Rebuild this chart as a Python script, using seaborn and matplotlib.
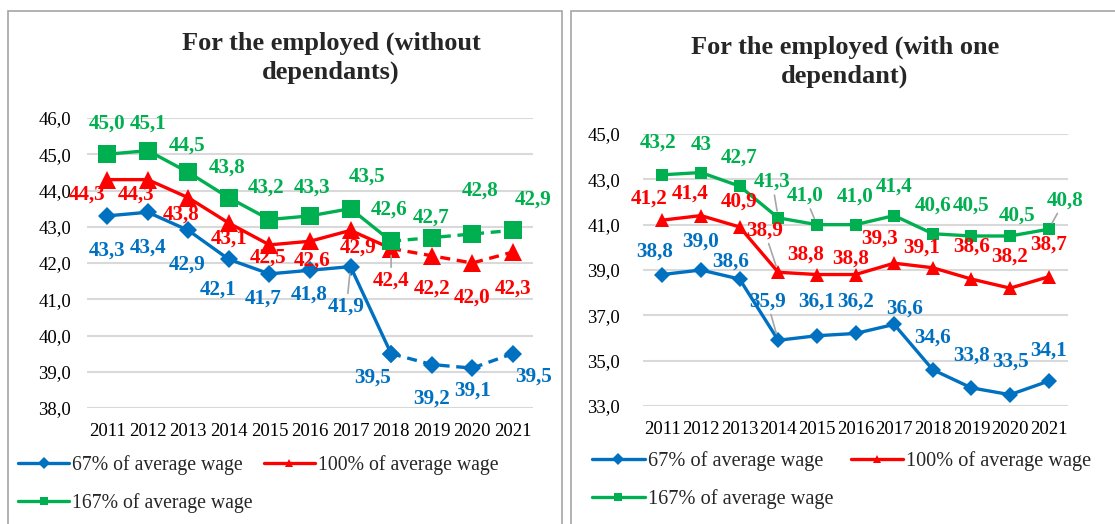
import matplotlib
matplotlib.use("Agg")
import matplotlib.pyplot as plt
from matplotlib.lines import Line2D
from matplotlib.patches import Rectangle
import seaborn as sns
import pandas as pd

# ---------------- data ----------------
years = [2011, 2012, 2013, 2014, 2015, 2016, 2017, 2018, 2019, 2020, 2021]
series_names = ["67% of average wage", "100% of average wage", "167% of average wage"]

left_67 = [43.3, 43.4, 42.9, 42.1, 41.7, 41.8, 41.9, 39.5, 39.2, 39.1, 39.5]
left_100 = [44.3, 44.3, 43.8, 43.1, 42.5, 42.6, 42.9, 42.4, 42.2, 42.0, 42.3]
left_167 = [45.0, 45.1, 44.5, 43.8, 43.2, 43.3, 43.5, 42.6, 42.7, 42.8, 42.9]

right_67 = [38.8, 39.0, 38.6, 35.9, 36.1, 36.2, 36.6, 34.6, 33.8, 33.5, 34.1]
right_100 = [41.2, 41.4, 40.9, 38.9, 38.8, 38.8, 39.3, 39.1, 38.6, 38.2, 38.7]
right_167 = [43.2, 43.3, 42.7, 41.3, 41.0, 41.0, 41.4, 40.6, 40.5, 40.5, 40.8]
right_167_label_override = {1: "43"}

left_title = "For the employed (without\ndependants)"
right_title = "For the employed (with one\ndependant)"
left_yticks = [38.0, 39.0, 40.0, 41.0, 42.0, 43.0, 44.0, 45.0, 46.0]
right_yticks = [33.0, 35.0, 37.0, 39.0, 41.0, 43.0, 45.0]
dash_from_year = 2018  # left panel: dashed after this year

# ---------------- style ----------------
colors = ["#0070C0", "#FF0000", "#00B050"]
markers = ["D", "^", "s"]
W, H = 1115, 524
sns.set_theme(style="white")
plt.rcParams["font.family"] = ["Liberation Serif", "DejaVu Serif"]

fig = plt.figure(figsize=(W / 100, H / 100), dpi=100)


def fx(px):
    return px / W


def fy(py):
    return 1 - py / H


# panel borders
for x0, x1 in [(8, 562), (571, 1130)]:
    fig.patches.append(Rectangle((fx(x0), fy(540)), fx(x1 - x0), fy(11) - fy(540),
                                 transform=fig.transFigure, fill=False,
                                 edgecolor="#A6A6A6", linewidth=1.2, zorder=0))


def fmt(v):
    return f"{v:.1f}".replace(".", ",")


def draw_panel(ax, data, msizes, offsets, leaders, ylim, yticks, ypad, dashed, overrides):
    for k, (vals, name) in enumerate(zip(data, series_names)):
        df = pd.DataFrame({"year": years, "value": vals})
        if dashed:
            solid = df[df.year <= dash_from_year]
            dash = df[df.year >= dash_from_year]
            sns.lineplot(data=solid, x="year", y="value", ax=ax, color=colors[k], lw=2.4,
                         marker=markers[k], markersize=msizes[k], markeredgewidth=0, zorder=3)
            sns.lineplot(data=dash, x="year", y="value", ax=ax, color=colors[k], lw=2.4,
                         marker=markers[k], markersize=msizes[k], markeredgewidth=0,
                         dashes=(3, 2), zorder=3)
        else:
            sns.lineplot(data=df, x="year", y="value", ax=ax, color=colors[k], lw=2.4,
                         marker=markers[k], markersize=msizes[k], markeredgewidth=0, zorder=3)
        for i, (yr, v) in enumerate(zip(years, vals)):
            txt = overrides.get((k, i), fmt(v))
            dx, dy = offsets[k][i]
            ap = None
            if (k, i) in leaders:
                ap = dict(arrowstyle="-", color="#A6A6A6", lw=1.2, shrinkA=0, shrinkB=5)
            ax.annotate(txt, (yr, v), xytext=(dx, -dy), textcoords="offset pixels",
                        ha="center", va="center", color=colors[k], fontsize=15.2,
                        fontweight="bold", arrowprops=ap, zorder=4, annotation_clip=False)
    ax.set_xlim(2010.5, 2021.5)
    ax.set_ylim(*ylim)
    ax.set_yticks(yticks)
    ax.set_yticklabels([fmt(t) for t in yticks])
    ax.set_xticks(years)
    ax.set_xticklabels([str(y) for y in years])
    ax.tick_params(axis="y", length=0, pad=ypad, labelsize=13.5, colors="black")
    ax.tick_params(axis="x", length=0, pad=10.5, labelsize=13.5, colors="black")
    ax.grid(axis="y", color="#D9D9D9", lw=1.5)
    ax.grid(axis="x", visible=False)
    for s in ax.spines.values():
        s.set_visible(False)
    ax.set_xlabel("")
    ax.set_ylabel("")
    ax.set_facecolor("none")
    if ax.get_legend():
        ax.get_legend().remove()


# left panel
axL = fig.add_axes([fx(87), fy(408), fx(446), fy(118) - fy(408)])
offL = [
    [(0, 35), (0, 35), (-1, 34), (-11, 30), (-6, 25), (-1, 24), (-4, 40), (-19, 24), (0, 34), (0, 22), (21, 23)],
    [(-20, 15), (-12, 15), (-7, 17), (0, 15), (-1, 13), (2, 19), (8, 17), (0, 32), (0, 33), (0, 35), (0, 36)],
    [(0, -31), (0, -27), (-1, -27), (-2, -30), (-3, -32), (2, -28), (17, -32), (-2, -32), (-1, -20), (8, -43), (20, -31)],
]
draw_panel(axL, [left_67, left_100, left_167], [9.5, 13.5, 12.5], offL,
           {(1, 7), (0, 6)}, (38, 46), left_yticks, 11.5, True, {})

# right panel
axR = fig.add_axes([fx(643), fy(406), fx(425), fy(134) - fy(406)])
offR = [
    [(-8, -23), (0, -28), (-9, -17), (-11, -39), (0, -34), (0, -32), (10, -16), (0, -32), (0, -32), (0, -33), (0, -30)],
    [(-13, -22), (-11, -22), (0, -25), (-14, -42), (-11, -20), (-5, -16), (-15, -25), (-11, -20), (0, -32), (0, -32), (0, -32)],
    [(-4, -32), (0, -28), (0, -29), (-6, -36), (-12, -29), (0, -28), (0, -29), (0, -28), (0, -30), (7, -20), (16, -29)],
]
overR = {(2, i): t for i, t in right_167_label_override.items()}
draw_panel(axR, [right_67, right_100, right_167], [8.5, 9.5, 9], offR,
           {(2, 3), (2, 4), (1, 3), (0, 3), (2, 10)}, (33, 45), right_yticks, 16.5, False, overR)

# titles
fig.text(fx(331), fy(58), left_title, ha="center", va="center", fontsize=19,
         fontweight="bold", linespacing=1.3)
fig.text(fx(845), fy(62), right_title, ha="center", va="center", fontsize=19,
         fontweight="bold", linespacing=1.3)

# legends (row-wise order: 67%, 100% on first row, 167% on second)
handles = [Line2D([0], [0], color=c, lw=2.4, marker=m, markersize=6, markeredgewidth=0)
           for c, m in zip(colors, markers)]
order = [0, 2, 1]
for x0, y0, fs, cs in [(18, 455, 14.2, 0.55), (592, 451, 14.6, 0.85)]:
    fig.legend([handles[i] for i in order], [series_names[i] for i in order], ncol=2,
               loc="upper left", bbox_to_anchor=(fx(x0), fy(y0)),
               bbox_transform=fig.transFigure, frameon=False, fontsize=fs,
               handlelength=2.6, handletextpad=0.15, columnspacing=cs, borderpad=0,
               borderaxespad=0, labelspacing=0.92)

fig.savefig("out.png", dpi=100)
